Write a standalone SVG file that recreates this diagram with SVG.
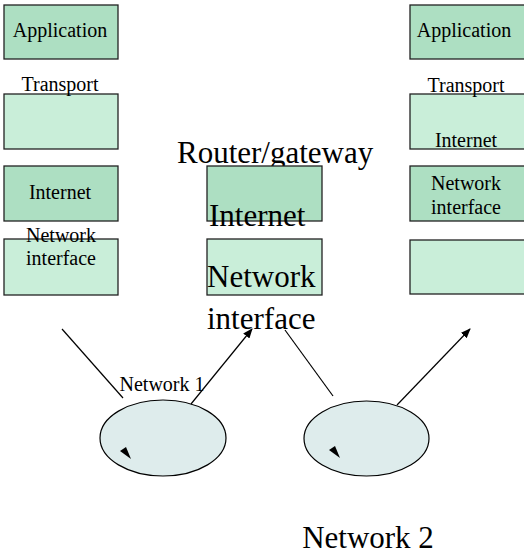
<svg xmlns="http://www.w3.org/2000/svg" width="524" height="554" viewBox="0 0 524 554">
<style>
.dk{fill:#addfc2;stroke:#222;stroke-width:1.3}
.lt{fill:#c9eed9;stroke:#222;stroke-width:1.3}
.t{font-family:"Liberation Serif","Times New Roman",serif;fill:#000;text-anchor:middle}
.s{font-size:20px}
.b{font-size:31px}
.st{text-anchor:start}
.ln{stroke:#000;stroke-width:1.2;fill:none}
.net{fill:#deecec;stroke:#000;stroke-width:1.2}
</style>
<defs>
<marker id="ah" markerWidth="10" markerHeight="8" refX="9" refY="4" orient="auto" markerUnits="userSpaceOnUse">
<path d="M0,0 L10,4 L0,8 Z" fill="#000"/>
</marker>
</defs>
<rect width="524" height="554" fill="#fff"/>
<g id="host1-application"><rect class="dk" x="4" y="5" width="114" height="54"/><text class="t s" x="60" y="37">Application</text></g>
<g id="host1-transport"><rect class="lt" x="4" y="94" width="114" height="55"/><text class="t s" x="60" y="91">Transport</text></g>
<g id="host1-internet"><rect class="dk" x="4" y="166" width="114" height="55"/><text class="t s" x="60" y="199">Internet</text></g>
<g id="host1-netif"><rect class="lt" x="4" y="239" width="114" height="56"/><text class="t s" x="61" y="242">Network</text><text class="t s" x="61" y="265">interface</text></g>
<g id="host2-application"><rect class="dk" x="410" y="5" width="116" height="54"/><text class="t s" x="464" y="37">Application</text></g>
<g id="host2-transport"><rect class="lt" x="410" y="94" width="116" height="55"/><text class="t s" x="466" y="92">Transport</text><text class="t s" x="466" y="147">Internet</text></g>
<g id="host2-netif"><rect class="dk" x="410" y="166" width="116" height="55"/><text class="t s" x="466" y="190">Network</text><text class="t s" x="466" y="214">interface</text></g>
<g id="host2-bottom"><rect class="lt" x="410" y="240" width="116" height="54"/></g>
<g id="router"><text class="t b st" x="177" y="163">Router/gateway</text></g>
<g id="router-internet"><rect class="dk" x="207" y="166" width="115" height="55"/><text class="t b st" x="209" y="226">Internet</text></g>
<g id="router-netif"><rect class="lt" x="207" y="239" width="115" height="56"/><text class="t b st" x="207" y="287">Network</text><text class="t b st" x="207" y="329">interface</text></g>
<g id="network1"><ellipse class="net" cx="163" cy="438" rx="63" ry="38"/><path d="M120,451 L131,459 L126,447 Z" fill="#000"/><text class="t s" x="162" y="391">Network 1</text></g>
<g id="network2"><ellipse class="net" cx="366.5" cy="438.5" rx="62.5" ry="37.5"/><path d="M329,450 L340,458 L335,446 Z" fill="#000"/><text class="t b" x="368" y="548">Network 2</text></g>
<g id="connectors">
<line class="ln" x1="62" y1="329" x2="123" y2="398"/>
<line class="ln" x1="191" y1="404" x2="252" y2="329" marker-end="url(#ah)"/>
<line class="ln" x1="285" y1="330" x2="333" y2="396"/>
<line class="ln" x1="397" y1="405" x2="470" y2="329" marker-end="url(#ah)"/>
</g>
</svg>
